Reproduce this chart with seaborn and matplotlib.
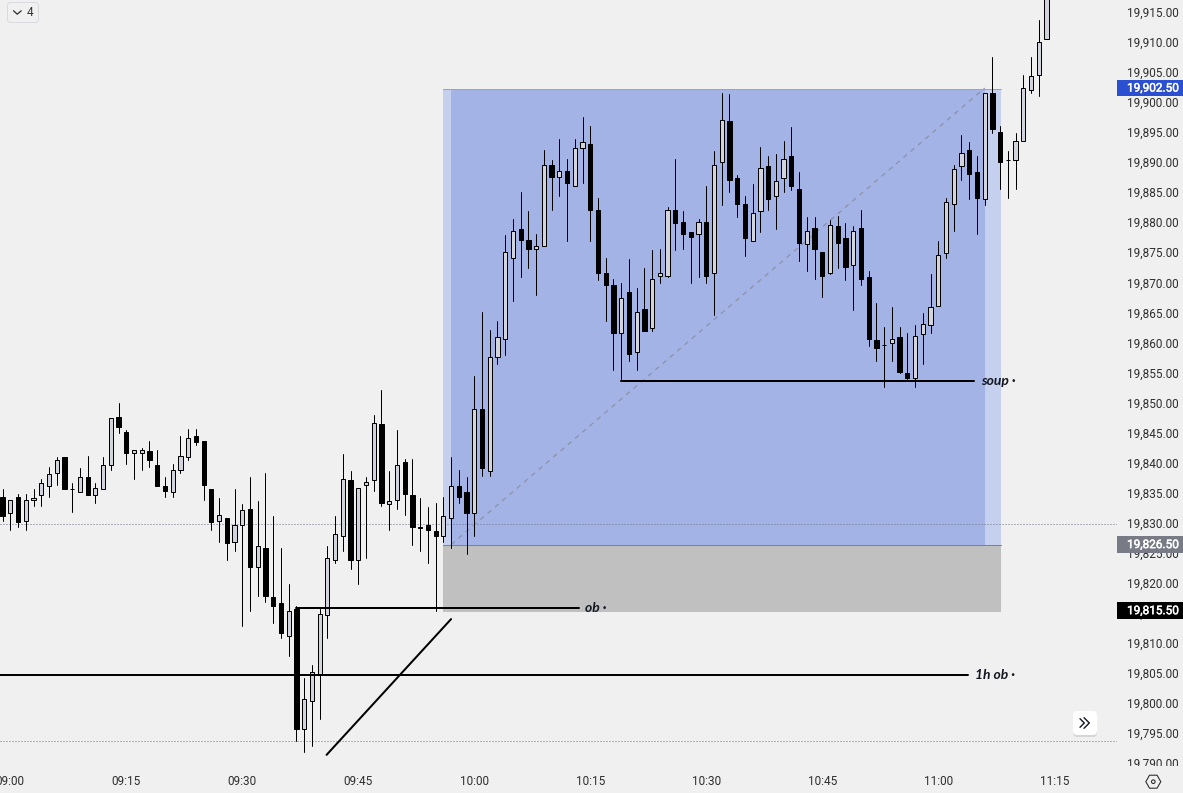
import numpy as np
import pandas as pd
import matplotlib
matplotlib.use('Agg')
import matplotlib.pyplot as plt
import matplotlib.patheffects as pe
from matplotlib.lines import Line2D
from matplotlib.patches import FancyBboxPatch, Rectangle, RegularPolygon, Circle
from matplotlib.transforms import Affine2D, Bbox
import seaborn as sns

# one minute candles, first one is 08:59, ten per row
first_minute = -1
highs = [19835.75, 19834, 19835, 19835, 19835.75, 19837.5, 19839.5, 19841, 19841, 19836.75,
         19839.25, 19841.25, 19836.75, 19841, 19847.5, 19850, 19845.5, 19842.25, 19842.5, 19843.75,
         19842.25, 19837.75, 19840, 19844.5, 19845.75, 19845.75, 19843.75, 19835.75, 19834.25, 19831,
         19835.75, 19833.25, 19837.75, 19833.75, 19838.5, 19831.25, 19826, 19820, 19816.25, 19804.25,
         19806.5, 19815.75, 19826.25, 19831.25, 19841.5, 19838.75, 19836, 19837.75, 19848, 19852.25,
         19838.75, 19845.5, 19840.75, 19840.75, 19834.25, 19832.75, 19833.5, 19834.5, 19841, 19839,
         19837.75, 19854.5, 19865.25, 19862.25, 19863.75, 19878, 19880.75, 19885.25, 19882, 19878.25,
         19892.25, 19890.5, 19894, 19890.75, 19894, 19897.75, 19896.25, 19884.25, 19874.25, 19870.75,
         19870, 19874, 19869.25, 19872.5, 19875.5, 19875.75, 19882.75, 19890.75, 19882, 19878.5,
         19880.75, 19886.25, 19892, 19901.75, 19901.5, 19888, 19884.5, 19886.5, 19892.75, 19891.25,
         19891.5, 19893.75, 19896, 19888.5, 19881, 19881, 19875.25, 19880.5, 19881.25, 19880,
         19879.5, 19882.25, 19872, 19866.75, 19862.75, 19866, 19862.75, 19861.75, 19863, 19865,
         19871.5, 19877, 19884.25, 19889.75, 19894.75, 19893.5, 19891.25, 19901.75, 19907.75, 19896.25,
         19892, 19895, 19904.75, 19907.75, 19913.75, 19923]
lows = [19830.5, 19829, 19829.5, 19829, 19833, 19833, 19834.5, 19836.5, 19835.75, 19832,
        19835.25, 19834.75, 19833.5, 19835.75, 19839, 19845, 19840, 19837.5, 19839, 19839.5,
        19836.25, 19834.5, 19834.5, 19838.5, 19840.5, 19843, 19834, 19829, 19827, 19824,
        19825.5, 19813, 19815.5, 19818, 19817, 19813.5, 19811, 19808, 19793.75, 19792,
        19793, 19797.5, 19811, 19823.5, 19825.5, 19822.5, 19820, 19824.25, 19835.5, 19833,
        19829, 19832.5, 19831.5, 19826.5, 19825.5, 19823.5, 19815.5, 19827, 19826, 19833.5,
        19825, 19828, 19838, 19838, 19856.5, 19858, 19867, 19871, 19872.5, 19868,
        19876.25, 19882.25, 19884.5, 19877, 19886.25, 19886.75, 19877, 19870.5, 19863.75, 19855.5,
        19854, 19857, 19855.5, 19862, 19862, 19870, 19871, 19875.5, 19875.75, 19870,
        19871, 19870, 19864.75, 19883, 19885.25, 19881, 19874.5, 19877, 19878.5, 19882.25,
        19879, 19885.25, 19885.5, 19873.75, 19872, 19870.75, 19867.75, 19871.5, 19872.5, 19870.5,
        19865.5, 19869.75, 19859.5, 19857, 19852.75, 19857, 19855, 19854, 19852.75, 19856.5,
        19861.75, 19866.25, 19874.25, 19878.75, 19887.25, 19884, 19878.25, 19883, 19895, 19885.75,
        19884.25, 19885.75, 19893.75, 19901.75, 19901.25, 19910.75]
body_tops = [19834.5, 19834, 19834.5, 19834, 19834.25, 19836.75, 19838.25, 19840.5, 19841, 19835.75,
             19837.75, 19837.75, 19836, 19839.75, 19847.5, 19847.75, 19845.25, 19842.25, 19842.25, 19842,
             19839.75, 19836.25, 19839, 19841.25, 19844.25, 19844.5, 19843.75, 19835.75, 19831.5, 19831,
             19829.75, 19832.25, 19832.5, 19826.25, 19826, 19817.75, 19816.75, 19815.5, 19815.75, 19800.75,
             19805.25, 19815, 19824.25, 19828.25, 19837.5, 19837.25, 19836, 19837, 19846.75, 19846.5,
             19833.75, 19839.75, 19840.25, 19834.75, 19829.5, 19829.75, 19828.75, 19831.25, 19836.25, 19836.25,
             19835.25, 19849, 19849, 19857.75, 19861, 19875.25, 19878.75, 19879, 19877.25, 19876.25,
             19889.75, 19889.75, 19888.75, 19888.75, 19892.5, 19893.5, 19893.25, 19882.25, 19871.75, 19869.75,
             19867.5, 19868.5, 19865.25, 19865.75, 19870.75, 19871.75, 19882.25, 19882.25, 19880.25, 19878.5,
             19880.25, 19880.25, 19889.75, 19897.25, 19897, 19887.5, 19883.25, 19881.75, 19889.25, 19889.5,
             19887, 19890.75, 19891.25, 19885.75, 19878.75, 19879.25, 19875.25, 19879.75, 19879.5, 19877.5,
             19878.75, 19879.25, 19871, 19860.5, 19859.75, 19860.75, 19861, 19855, 19861.25, 19863.25,
             19866, 19874.75, 19883.5, 19889, 19891.75, 19892.25, 19888.5, 19901.75, 19901.75, 19895.25,
             19890.5, 19893.75, 19902.5, 19904.5, 19910.25, 19920]
body_bottoms = [19831.25, 19831.75, 19830.25, 19830.5, 19834, 19834.75, 19836.25, 19838.5, 19835.75, 19835.75,
                19835.25, 19834.75, 19834.75, 19835.75, 19839.75, 19846, 19841.75, 19841.75, 19841.75, 19840.5,
                19836.25, 19835.5, 19835.25, 19839, 19841, 19843.5, 19836.5, 19830.25, 19830.5, 19826.75,
                19827, 19829.75, 19822.75, 19822.75, 19818, 19816.25, 19811.75, 19811.25, 19795.75, 19795.75,
                19800.5, 19805, 19814.75, 19824, 19828, 19824, 19824, 19836.5, 19837.25, 19833.5,
                19833.25, 19834, 19835, 19829.5, 19829.25, 19829, 19828, 19828, 19831, 19834.5,
                19831.75, 19831.75, 19839.25, 19838.75, 19857.75, 19860.75, 19874.25, 19877.25, 19875.75, 19875.75,
                19876.25, 19887.75, 19887.75, 19886.75, 19886.25, 19892.5, 19882.25, 19871.75, 19869.75, 19861.75,
                19861.75, 19858.25, 19858.5, 19862, 19862.5, 19871.25, 19871.25, 19880, 19878.25, 19877.75,
                19878.25, 19871.25, 19871.75, 19890.25, 19887.25, 19883.25, 19877.5, 19877, 19882, 19884,
                19884.5, 19887.5, 19886.25, 19876.75, 19876.5, 19875.75, 19871.25, 19871.75, 19876.75, 19872.75,
                19873, 19870.75, 19860.75, 19859.25, 19859.75, 19860, 19855.25, 19854.25, 19854.25, 19861.5,
                19863, 19866.25, 19875, 19883.25, 19889.5, 19888.25, 19884.25, 19884, 19895.75, 19890.25,
                19890.5, 19890.5, 19893.75, 19902.25, 19904.75, 19910.75]
# B candles closed lower and are solid black, W are the light ones
candle_kinds = ('BWBWWWWWBB' 'WBWWWBBWWB' 'BBWWWBBBWB' 'WWBWBBBWBW' 'WWWWWBWWWB'
                'WWBBBBBWWB' 'BWBWWWWBBW' 'WBWBWWBBBB' 'WBWBWWWBBB' 'WBWWBBBWWB'
                'WWBBWBBWBB' 'WBBBBWBBWW' 'WWWWWBBWBB' 'BWWWWW')

# price and time scales
price_ticks = [19790, 19795, 19800, 19805, 19810, 19815, 19820, 19825, 19830, 19835, 19840, 19845, 19850,
               19855, 19860, 19865, 19870, 19875, 19880, 19885, 19890, 19895, 19900, 19905, 19910, 19915]
time_ticks = [0, 15, 30, 45, 60, 75, 90, 105, 120, 135]
time_labels = ['09:00', '09:15', '09:30', '09:45', '10:00', '10:15', '10:30', '10:45', '11:00', '11:15']

# drawing tools on the chart, minutes and prices
tool_start = 56
tool_entry_start = 57
tool_entry_end = 126
tool_end = 128.1
tool_top = 19902.4
tool_entry = 19826.5
tool_stop = 19815.25
dotted_prices = [19830, 19793.75]
ob_minutes = [37, 73.5]
ob_price = 19816
soup_minutes = [79, 124.6]
soup_price = 19853.75
hour_ob_minutes = [-1.4, 123.9]
hour_ob_price = 19804.75
trend_minutes = [40.9, 57]
trend_prices = [19791.5, 19814.1]
dash_minutes = [57, 126]
dash_prices = [19826.5, 19902.5]
tag_prices = [19902.50, 19826.50, 19815.50]
tag_colors = ['#2a4fd0', '#787b86', 'black']

BG = '#f0f0f0'
W, H = 1183, 793
PLOT_W, PLOT_H = 1117, 768
PX = 72 / 100  # one pixel in points

sns.set_theme(style='white', rc={'axes.facecolor': BG, 'figure.facecolor': BG})
plt.rcParams['font.family'] = ['Roboto', 'DejaVu Sans']

fig = plt.figure(figsize=(W / 100, H / 100), dpi=100)
ax = fig.add_axes([0, (H - PLOT_H) / H, PLOT_W / W, PLOT_H / H])
sns.despine(ax=ax, left=True, bottom=True, right=True, top=True)

candles = pd.DataFrame({'high': highs, 'low': lows, 'top': body_tops, 'bottom': body_bottoms,
                        'kind': list(candle_kinds)})
candles['minute'] = first_minute + np.arange(len(candles))

# risk/reward box sits under everything
ax.add_patch(Rectangle((tool_start, tool_entry), tool_end - tool_start, tool_top - tool_entry,
                       facecolor='#c5cfee', linewidth=0, zorder=1))
ax.add_patch(Rectangle((tool_entry_start, tool_entry), tool_entry_end - tool_entry_start, tool_top - tool_entry,
                       facecolor='#a3b3e6', linewidth=0, zorder=1.1))
ax.add_patch(Rectangle((tool_start, tool_stop), tool_end - tool_start, tool_entry - tool_stop,
                       facecolor='#c0c0c0', linewidth=0, zorder=1))
sns.lineplot(x=[tool_start, tool_end], y=[tool_entry, tool_entry], color='#7b8094', lw=PX, ax=ax, zorder=1.2)
sns.lineplot(x=[tool_start, tool_end], y=[tool_top, tool_top], color='#8ea2e0', lw=PX, ax=ax, zorder=1.2)

# dotted price lines and dashed diagonal
for price in dotted_prices:
    ax.axhline(price, color='#6f7287', lw=PX, dashes=(1, 2), zorder=1.3)
dash_line = sns.lineplot(x=dash_minutes, y=dash_prices, color='#8c90a6', lw=PX * 1.2, ax=ax, zorder=1.3)
dash_line.lines[-1].set_dashes((4, 4))

# wicks, one small line per candle
wicks = candles.melt(id_vars='minute', value_vars=['high', 'low'], value_name='price')
sns.lineplot(data=wicks, x='minute', y='price', units='minute', estimator=None, sort=False,
             color='black', lw=PX, ax=ax, zorder=3, legend=False)

# candle bodies
body_colors = ['black' if k == 'B' else '#d1d4dc' for k in candles['kind']]
ax.bar(candles['minute'], candles['top'] - candles['bottom'], bottom=candles['bottom'], width=0.55,
       color=body_colors, edgecolor='black', linewidth=PX, zorder=4)

# horizontal levels and the trend line
for xs, price in [(ob_minutes, ob_price), (soup_minutes, soup_price), (hour_ob_minutes, hour_ob_price)]:
    sns.lineplot(x=xs, y=[price, price], color='black', lw=PX * 2, ax=ax, zorder=5)
sns.lineplot(x=trend_minutes, y=trend_prices, color='black', lw=PX * 2, ax=ax, zorder=5)

label_style = dict(family='Lato', fontsize=10, fontweight='bold', fontstyle='italic',
                   color='#131722', va='center', ha='left', zorder=6)
ax.text(74.3, ob_price, 'ob ·', **label_style)
ax.text(125.5, soup_price, 'soup ·', **label_style)
ax.text(124.7, hour_ob_price, '1h ob ·', **label_style)

# axes
ax.set_xlim(-1.332, 143.11)
ax.set_ylim(19789.31, 19917.16)
ax.yaxis.tick_right()
ax.set_yticks(price_ticks)
ax.set_yticklabels([f'{p:,.2f}' for p in price_ticks])
ax.set_xticks(time_ticks)
ax.set_xticklabels(time_labels)
ax.tick_params(axis='y', length=0, pad=10 * PX, labelsize=8.5, labelcolor='#2e2e2e')
ax.tick_params(axis='x', length=0, pad=7 * PX, labelsize=8.5, labelcolor='#2e2e2e')
ax.set_xlabel('')
ax.set_ylabel('')
# price labels sit a pixel high, the bottom one gets cut by the time scale
for lab in ax.get_yticklabels():
    lab.set_transform(lab.get_transform() + Affine2D().translate(0, 1))
    lab.set_clip_on(True)
    lab.set_clip_box(Bbox([[PLOT_W, H - PLOT_H + 2], [W, H]]))

# price tags on the scale
tag_w = (W - PLOT_W) / PLOT_W
tag_h = 16.7 / 6.007
for price, face in zip(tag_prices, tag_colors):
    ax.add_patch(Rectangle((1, price - tag_h / 2), tag_w, tag_h, transform=ax.get_yaxis_transform(),
                           facecolor=face, linewidth=0, clip_on=False, zorder=10))
    tag = ax.text(1 + 10 / PLOT_W, price, f'{price:,.2f}', transform=ax.get_yaxis_transform(), color='white',
                  fontsize=8.5, va='center', ha='left', clip_on=False, zorder=11)
    tag.set_path_effects([pe.withStroke(linewidth=0.35, foreground='white')])


def fx(x):
    return x / W


def fy(y):
    return 1 - y / H


def chevron(xs, ys, color, lw):
    fig.add_artist(Line2D([fx(x) for x in xs], [fy(y) for y in ys], color=color, lw=lw * PX,
                          transform=fig.transFigure, zorder=20))


def rounded(x0, y0, x1, y1, face, edge, radius=3, alpha=1.0):
    # figure is not square so work in pixels here
    fig.add_artist(FancyBboxPatch((x0 + radius, H - y1 + radius), x1 - x0 - 2 * radius, y1 - y0 - 2 * radius,
                                  boxstyle=f'round,pad={radius},rounding_size={radius}', transform=None,
                                  facecolor=face, edgecolor=edge, linewidth=PX, alpha=alpha, zorder=19))


# collapse button top left
rounded(7.5, 2.5, 38.5, 22.5, BG, '#d9dae0')
chevron([13.5, 17.3, 21.2], [10.8, 14.2, 10.8], '#333333', 1.3)
fig.text(fx(30.5), fy(12.7), '4', fontsize=8.5, color='#333333', ha='center', va='center', zorder=20)

# scroll button bottom right
rounded(1073, 713, 1097, 737, '#bdbdbd', 'none', radius=4, alpha=0.5)
rounded(1073, 711, 1097, 735, 'white', 'none', radius=4)
chevron([1080, 1084.3, 1080], [718.7, 723, 727.3], '#131722', 1.4)
chevron([1084, 1089.3, 1084], [717.7, 723, 728.3], '#131722', 1.4)

# settings icon
fig.add_artist(RegularPolygon((1153.3, H - 781.7), 6, radius=7.5, transform=None, facecolor='none',
                              edgecolor='#2e2e2e', linewidth=PX * 1.1, orientation=np.pi / 2, zorder=20))
fig.add_artist(Circle((1153.3, H - 781.7), 1.8, transform=None, facecolor='none', edgecolor='#2e2e2e',
                      linewidth=PX * 1.1, zorder=20))

plt.savefig('out.png', dpi=100)
plt.close()
